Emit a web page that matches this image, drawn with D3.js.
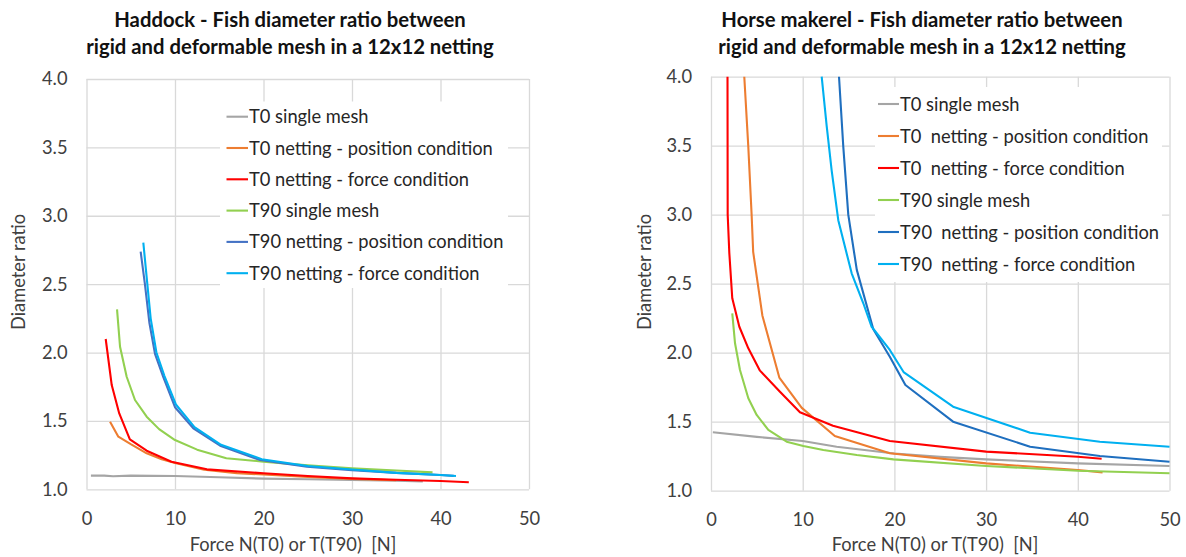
<!DOCTYPE html>
<html>
<head>
<meta charset="utf-8">
<script src="https://cdn.jsdelivr.net/npm/d3@7"></script>
<style>
  html, body { margin: 0; padding: 0; background: #fff; }
  svg { display: block; font-family: Lato, "Open Sans", sans-serif; }
  .legend text { white-space: pre; }
</style>
</head>
<body>
<svg id="chart" width="1186" height="557"></svg>
<script>
// ---- Data: [force N, diameter ratio] pairs ----
const haddockT0Single      = [[0.5,1.10],[2,1.10],[3,1.095],[5,1.10],[10,1.097],[15,1.088],[20,1.078],[25,1.073],[30,1.068],[35,1.062],[38,1.058]];
const haddockT0NetPos      = [[2.66,1.494],[3.6,1.385],[5,1.33],[6.8,1.263],[8.5,1.22],[10,1.193],[13.3,1.143],[17,1.118],[20,1.108],[25,1.09],[30,1.076],[35,1.066]];
const haddockT0NetForce    = [[2.17,2.099],[2.85,1.762],[3.7,1.555],[4.9,1.365],[6.8,1.282],[9.6,1.202],[13.6,1.146],[20,1.117],[25,1.097],[30,1.08],[35,1.07],[40,1.061],[43.2,1.051]];
const haddockT90Single     = [[3.45,2.316],[3.79,2.042],[4.54,1.823],[5.48,1.653],[6.8,1.531],[8.2,1.44],[10,1.36],[12.5,1.29],[15.8,1.227],[20,1.202],[25,1.175],[30,1.153],[35,1.138],[39.1,1.124]];
const haddockT90NetPos     = [[6.12,2.737],[6.6,2.5],[7.1,2.22],[7.74,1.99],[8.68,1.82],[10,1.6],[12.07,1.446],[15.1,1.319],[19.6,1.214],[24.9,1.165],[30,1.14],[35,1.12],[40,1.104],[41.5,1.098]];
const haddockT90NetForce   = [[6.42,2.803],[6.8,2.55],[7.25,2.25],[7.9,2.0],[8.8,1.83],[10.1,1.62],[12.2,1.455],[15.2,1.325],[19.8,1.22],[25,1.17],[30,1.145],[35,1.12],[40,1.104],[41.75,1.097]];

const makerelT0Single      = [[0.2,1.423],[5,1.39],[10,1.36],[13.7,1.319],[20,1.27],[25,1.245],[30,1.227],[40,1.198],[50,1.179]];
const makerelT0NetPos      = [[3.63,4.0],[4.07,3.49],[4.43,3.0],[4.6,2.73],[5.6,2.27],[7.45,1.82],[9.9,1.6],[13.5,1.396],[19.5,1.271],[30,1.198],[40,1.15],[42.7,1.133]];
const makerelT0NetForce    = [[1.8,4.0],[1.82,3.0],[2.0,2.72],[2.32,2.394],[3.09,2.188],[4.07,2.032],[5.34,1.87],[7.52,1.717],[9.7,1.568],[13.3,1.471],[19.5,1.36],[30,1.283],[40,1.246],[42.6,1.232]];
const makerelT90Single     = [[2.32,2.285],[2.62,2.068],[3.16,1.875],[4.07,1.67],[4.98,1.549],[6.25,1.44],[8.25,1.355],[10.07,1.324],[12.25,1.295],[15.9,1.259],[19.9,1.227],[30,1.179],[40,1.145],[50,1.126]];
const makerelT90NetPos     = [[13.96,4.0],[14.43,3.49],[14.97,3.0],[15.9,2.6],[17.7,2.17],[19.5,1.971],[21.2,1.766],[26.4,1.5],[34.8,1.319],[42.4,1.251],[50,1.21]];
const makerelT90NetForce   = [[12.07,4.0],[12.62,3.64],[13.16,3.32],[13.88,2.96],[15.34,2.575],[16.6,2.36],[17.5,2.19],[19.5,2.02],[21,1.86],[26.4,1.609],[34.8,1.42],[42.4,1.355],[50,1.319]];

const haddockLabels = ["T0 single mesh","T0 netting - position condition","T0 netting - force condition","T90 single mesh","T90 netting - position condition","T90 netting - force condition"];
const makerelLabels = ["T0 single mesh","T0  netting - position condition","T0  netting - force condition","T90 single mesh","T90  netting - position condition","T90  netting - force condition"];
const haddockColors = ["#a5a5a5","#ed7d31","#ff0000","#92d050","#4472c4","#00b0f0"];
const makerelColors = ["#a5a5a5","#ed7d31","#ff0000","#92d050","#1f6fbf","#00b0f0"];

const xTicks = [0,10,20,30,40,50];
const yTicks = [1.0,1.5,2.0,2.5,3.0,3.5,4.0];
const titles = [
  ["Haddock - Fish diameter ratio between","rigid and deformable mesh in a 12x12 netting"],
  ["Horse makerel - Fish diameter ratio between","rigid and deformable mesh in a 12x12 netting"]
];
const xTitle = "Force N(T0) or T(T90)  [N]";
const yTitle = "Diameter ratio";

// ---- Layout ----
const svg = d3.select("#chart");
const panels = [
  { id:"had", left:86.5, right:529, top:79, bottom:489.3, titleX:290, xTitleX:293, yTitleX:19,
    series:[haddockT0Single,haddockT0NetPos,haddockT0NetForce,haddockT90Single,haddockT90NetPos,haddockT90NetForce],
    labels:haddockLabels, colors:haddockColors, title:titles[0],
    legend:{x:220, y:101.5, w:288, h:186.5, lineX:226.5, textX:249, row0:116.7, step:31.3} },
  { id:"hm", left:711, right:1169.5, top:76.7, bottom:490.7, titleX:922, xTitleX:935, yTitleX:645,
    series:[makerelT0Single,makerelT0NetPos,makerelT0NetForce,makerelT90Single,makerelT90NetPos,makerelT90NetForce],
    labels:makerelLabels, colors:makerelColors, title:titles[1],
    legend:{x:875, y:87, w:287, h:195, lineX:878, textX:900, row0:104, step:32} }
];

const fontSize = 18.3;

panels.forEach(p => {
  const x = d3.scaleLinear().domain([0,50]).range([p.left,p.right]);
  const y = d3.scaleLinear().domain([1,4]).range([p.bottom,p.top]);
  const g = svg.append("g");

  // gridlines + tick labels via axes
  const xAxis = d3.axisBottom(x).tickValues(xTicks).tickFormat(d3.format("d"))
    .tickSizeInner(-(p.bottom-p.top)).tickSizeOuter(0).tickPadding(19);
  const yAxis = d3.axisLeft(y).tickValues(yTicks).tickFormat(d3.format(".1f"))
    .tickSizeInner(-(p.right-p.left)).tickSizeOuter(0).tickPadding(19);

  const gx = g.append("g").attr("transform",`translate(0,${p.bottom})`).call(xAxis);
  const gy = g.append("g").attr("transform",`translate(${p.left},0)`).call(yAxis);
  [gx,gy].forEach(a => {
    a.select(".domain").remove();
    a.selectAll(".tick line").attr("stroke","#d9d9d9").attr("stroke-width",1.3);
    a.selectAll(".tick text").attr("font-size",fontSize).attr("font-family","Lato").attr("fill","#404040");
  });
  gx.selectAll(".tick text").attr("dy","0.9em");

  // curves, clipped to the plot area
  const clipId = "clip-" + p.id;
  g.append("clipPath").attr("id",clipId).append("rect")
    .attr("x",p.left).attr("y",p.top-1).attr("width",p.right-p.left+2).attr("height",p.bottom-p.top+1);
  const line = d3.line().x(d => x(d[0])).y(d => y(d[1]));
  const curves = g.append("g").attr("clip-path",`url(#${clipId})`);
  p.series.forEach((s,i) => {
    curves.append("path").datum(s).attr("d",line)
      .attr("fill","none").attr("stroke",p.colors[i]).attr("stroke-width",2.1)
      .attr("stroke-linejoin","round");
  });

  // legend
  const L = p.legend;
  const lg = g.append("g").attr("class","legend");
  lg.append("rect").attr("x",L.x).attr("y",L.y).attr("width",L.w).attr("height",L.h).attr("fill","#fff");
  p.labels.forEach((t,i) => {
    const cy = L.row0 + i*L.step;
    lg.append("line").attr("x1",L.lineX).attr("x2",L.textX-1).attr("y1",cy).attr("y2",cy)
      .attr("stroke",p.colors[i]).attr("stroke-width",2.1);
    lg.append("text").attr("x",L.textX).attr("y",cy).attr("dy","0.36em")
      .attr("font-size",fontSize).attr("fill","#262626").text(t);
  });

  // chart title
  p.title.forEach((t,i) => {
    g.append("text").attr("x",p.titleX).attr("y",27 + i*27).attr("text-anchor","middle")
      .attr("font-size",20.3).attr("font-weight","bold").attr("fill","#111").text(t);
  });

  // axis titles
  g.append("text").attr("x",p.xTitleX).attr("y",551).attr("text-anchor","middle")
    .attr("font-size",fontSize).attr("fill","#404040").style("white-space","pre").text(xTitle);
  g.append("text").attr("transform",`translate(${p.yTitleX},272) rotate(-90)`)
    .attr("text-anchor","middle").attr("dy","0.35em")
    .attr("font-size",fontSize).attr("fill","#404040").text(yTitle);
});
</script>
</body>
</html>
